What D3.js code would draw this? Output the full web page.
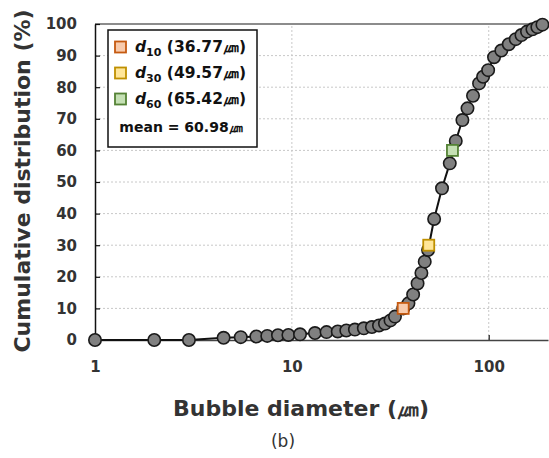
<!DOCTYPE html>
<html>
<head>
<meta charset="utf-8">
<script src="https://cdn.jsdelivr.net/npm/d3@7"></script>
<style>
  body { margin: 0; background: #fff; }
  text { font-family: "DejaVu Sans", Verdana, sans-serif; }
</style>
</head>
<body>
<svg id="chart" width="549" height="458"></svg>
<script>
// bubble diameter (um) and cumulative distribution (%)
const diameters = [1, 2, 3, 4.5, 5.5, 6.6, 7.5, 8.5, 9.6, 11.0, 13.1, 15.0, 17.1, 18.9, 20.9, 23.2, 25.5, 27.7, 29.7,
  31.7, 33.4, 36.8, 39.1, 41.3, 43.5, 45.5, 47.3, 49.2, 52.8, 57.9, 63.4, 68.0, 73.5, 78.0, 83.2, 89.3, 93.6, 99.3,
  106.4, 115.9, 126.4, 137.1, 146.6, 156.4, 166.7, 176.6, 187.4];
const cumulative = [0, 0, 0, 0.7, 0.9, 1.1, 1.3, 1.5, 1.6, 1.8, 2.2, 2.5, 2.7, 3.0, 3.3, 3.7, 4.1, 4.6, 5.2,
  6.2, 7.4, 10.0, 11.6, 14.4, 17.9, 21.2, 24.8, 28.5, 38.3, 48.0, 55.9, 63.0, 69.6, 73.3, 77.3, 81.2, 83.3, 85.4,
  89.5, 91.6, 93.6, 95.2, 96.5, 97.6, 98.3, 99.0, 99.8];

const markNames = ["10", "30", "60"];
const markDiameters = [36.77, 49.57, 65.42];
const markPercents = [10, 30, 60];
const markFill = ["#f8cbad", "#ffe699", "#c5e0b4"];
const markStroke = ["#c55a11", "#bf9000", "#548235"];
const meanDiameter = 60.98;

const xTicks = [1, 10, 100];
const yTicks = d3.range(0, 101, 10);

const svg = d3.select("#chart");
const margin = {left: 95, right: 1, top: 24, bottom: 118};
const W = 549, H = 458;

const x = d3.scaleLog().domain([1, 200]).range([margin.left, W - margin.right]);
const y = d3.scaleLinear().domain([0, 100]).range([H - margin.bottom, margin.top]);

// grid
svg.append("g").selectAll("line").data(yTicks.filter(v => v > 0 && v < 100)).join("line")
    .attr("x1", x(1)).attr("x2", x(200))
    .attr("y1", d => y(d)).attr("y2", d => y(d))
    .attr("stroke", "#c8c8c8").attr("stroke-dasharray", "2,2");
svg.append("g").selectAll("line").data([10, 100]).join("line")
    .attr("x1", d => x(d)).attr("x2", d => x(d))
    .attr("y1", y(0)).attr("y2", y(100))
    .attr("stroke", "#c8c8c8").attr("stroke-dasharray", "2,2");

// top border
svg.append("line")
    .attr("x1", x(1)).attr("x2", x(200)).attr("y1", y(100)).attr("y2", y(100))
    .attr("stroke", "#666").attr("stroke-width", 1.5);

// axes
let xaxis = svg.append("g")
    .attr("transform", `translate(0,${y(0)})`)
    .call(d3.axisBottom(x).tickValues(xTicks).tickFormat(d3.format("d")).tickSizeInner(-5).tickSizeOuter(0).tickPadding(21));
xaxis.select(".domain").attr("stroke", "#444").attr("stroke-width", 1.5);
xaxis.selectAll(".tick line").attr("stroke", "#444").attr("stroke-width", 1.5);
xaxis.selectAll("text").attr("font-size", 15).attr("font-weight", "bold").attr("fill", "#333")
    .style("font-family", "'DejaVu Sans', sans-serif");

let yaxis = svg.append("g")
    .attr("transform", `translate(${x(1)},0)`)
    .call(d3.axisLeft(y).tickValues(yTicks).tickSizeInner(-5).tickSizeOuter(0).tickPadding(18));
yaxis.select(".domain").attr("stroke", "#111").attr("stroke-width", 1.5);
yaxis.selectAll(".tick line").attr("stroke", "#111").attr("stroke-width", 1.2);
yaxis.selectAll("text").attr("font-size", 15).attr("font-weight", "bold").attr("fill", "#333")
    .style("font-family", "'DejaVu Sans', sans-serif");

// axis titles
svg.append("text")
    .attr("transform", `translate(30,${(y(0) + y(100)) / 2 - 1}) rotate(-90)`)
    .attr("text-anchor", "middle")
    .attr("font-size", 22).attr("font-weight", "bold").attr("fill", "#333")
    .text("Cumulative distribution (%)");
svg.append("text")
    .attr("x", 301).attr("y", 416)
    .attr("text-anchor", "middle")
    .attr("font-size", 22).attr("font-weight", "bold").attr("fill", "#333")
    .text("Bubble diameter (㎛)");
svg.append("text")
    .attr("x", 283).attr("y", 447)
    .attr("text-anchor", "middle")
    .attr("font-size", 17).attr("fill", "#333")
    .text("(b)");

// line + points
const pts = diameters.map((d, i) => ({d: d, p: cumulative[i]}));
svg.append("path")
    .datum(pts)
    .attr("fill", "none").attr("stroke", "#111").attr("stroke-width", 2)
    .attr("d", d3.line().x(d => x(d.d)).y(d => y(d.p)));
svg.append("g").selectAll("circle").data(pts).join("circle")
    .attr("cx", d => x(d.d)).attr("cy", d => y(d.p)).attr("r", 6.2)
    .attr("fill", "#808080").attr("stroke", "#1a1a1a").attr("stroke-width", 1.6);

// d10 d30 d60 markers
svg.append("g").selectAll("rect").data(markDiameters).join("rect")
    .attr("x", d => x(d) - 5.5).attr("y", (d, i) => y(markPercents[i]) - 5.5)
    .attr("width", 11).attr("height", 11)
    .attr("fill", (d, i) => markFill[i]).attr("stroke", (d, i) => markStroke[i]).attr("stroke-width", 1.8);

// legend
let legend = svg.append("g");
legend.append("rect")
    .attr("x", 108).attr("y", 30).attr("width", 149).attr("height", 117)
    .attr("fill", "#fff").attr("stroke", "#111").attr("stroke-width", 1.5);
markNames.forEach((n, i) => {
    let ly = 47 + i * 26;
    legend.append("rect")
        .attr("x", 115).attr("y", ly - 5.5).attr("width", 11).attr("height", 11)
        .attr("fill", markFill[i]).attr("stroke", markStroke[i]).attr("stroke-width", 1.8);
    let t = legend.append("text")
        .attr("x", 135).attr("y", ly + 5)
        .attr("font-size", 15.5).attr("font-weight", "bold").attr("fill", "#111");
    t.append("tspan").attr("font-style", "italic").text("d");
    t.append("tspan").attr("font-size", 11).attr("dy", 4).text(n);
    t.append("tspan").attr("dy", -4).text(" (" + markDiameters[i].toFixed(2) + "㎛)");
});
legend.append("text")
    .attr("x", 181).attr("y", 132)
    .attr("text-anchor", "middle")
    .attr("font-size", 14).attr("font-weight", "bold").attr("fill", "#111")
    .text("mean = " + meanDiameter.toFixed(2) + "㎛");
</script>
</body>
</html>
